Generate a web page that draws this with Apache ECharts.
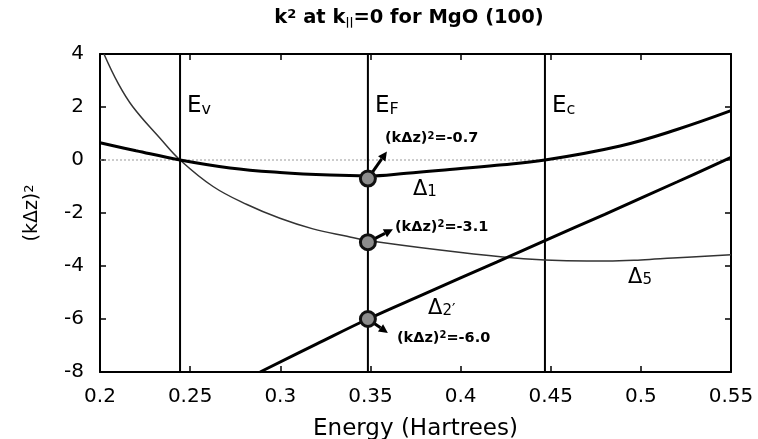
<!DOCTYPE html>
<html>
<head>
<meta charset="utf-8">
<script src="https://cdn.jsdelivr.net/npm/echarts@6/dist/echarts.min.js"></script>
<style>
  html, body { margin: 0; padding: 0; background: #fff; }
  #chart { width: 758px; height: 439px; }
</style>
</head>
<body>
<div id="chart"></div>
<script>
// Energy axis ticks (Hartrees) and (k dz)^2 axis ticks
const xTicks = [0.2, 0.25, 0.3, 0.35, 0.4, 0.45, 0.5, 0.55];
const yTicks = [-8, -6, -4, -2, 0, 2, 4];

// Band edges: valence top, Fermi level, conduction bottom
const edgeSubscripts = ['v', 'F', 'c'];
const edgeEnergies = [0.2444, 0.3486, 0.4468];

// (k dz)^2 versus energy for the three symmetry bands
const delta1 = [
  [0.2, 0.65], [0.22, 0.35], [0.2444, 0], [0.2721, -0.3], [0.2998, -0.47],
  [0.3275, -0.57], [0.3486, -0.6], [0.37, -0.5], [0.394, -0.36], [0.42, -0.2],
  [0.4468, 0], [0.4885, 0.53], [0.52, 1.15], [0.55, 1.86]
];
const delta5 = [
  [0.2022, 4.0], [0.21, 2.9], [0.2183, 2.0], [0.2333, 0.82], [0.2444, 0],
  [0.2627, -1.0], [0.2815, -1.68], [0.2998, -2.2], [0.3181, -2.6], [0.337, -2.88],
  [0.3486, -3.04], [0.3886, -3.4], [0.4235, -3.66], [0.4468, -3.77], [0.47, -3.81],
  [0.4812, -3.81], [0.50, -3.77], [0.5178, -3.7], [0.55, -3.58]
];
const delta2p = [
  [0.2888, -8.0], [0.32, -6.95], [0.3486, -6.0], [0.38, -5.05], [0.42, -3.85],
  [0.4468, -3.04], [0.48, -2.05], [0.52, -0.83], [0.55, 0.1]
];

// Values of (k dz)^2 at the Fermi level for each band
const fermiValues = [-0.7, -3.1, -6.0];
const fermiLabels = ['-0.7', '-3.1', '-6.0'];

// Band names with their label anchors (energy, (k dz)^2)
const bandNames = ['1', '5', '2\u2032'];
const bandLabelAnchors = [[0.3736, -1.1], [0.4929, -4.42], [0.382, -5.6]];

// Pixel offsets of arrow tips and callout text relative to each marker
const calloutLayout = [
  { tip: [19, -27], text: [17, -40] },
  { tip: [25, -13], text: [27, -15] },
  { tip: [20, 14], text: [29, 19] }
];

const FONT = 'DejaVu Sans';
const chart = echarts.init(document.getElementById('chart'));

const frameAxis = {
  axisLine: { show: true, onZero: false, lineStyle: { color: '#000', width: 2 } },
  axisTick: { show: true, inside: true, length: 6, lineStyle: { color: '#000', width: 1.5 } },
  splitLine: { show: false }
};

const curveSeries = (name, data, color, width, z) => ({
  name, type: 'line', data, showSymbol: false, smooth: 0.4,
  lineStyle: { color, width }, z
});

const option = {
  animation: false,
  backgroundColor: '#fff',
  grid: { left: 100, right: 27, top: 54, bottom: 67, containLabel: false, outerBoundsMode: 'none' },
  xAxis: [
    Object.assign({
      type: 'value', min: xTicks[0], max: xTicks[xTicks.length - 1], interval: 0.05,
      axisLabel: {
        fontFamily: FONT, fontSize: 20, color: '#000', margin: 15,
        formatter: v => String(+v.toFixed(2))
      },
      name: 'Energy (Hartrees)', nameLocation: 'middle', nameGap: 46,
      nameTextStyle: { fontFamily: FONT, fontSize: 23, color: '#000' }
    }, frameAxis),
    Object.assign({
      type: 'value', position: 'top', min: xTicks[0], max: xTicks[xTicks.length - 1], interval: 0.05,
      axisLabel: { show: false }
    }, frameAxis)
  ],
  yAxis: [
    Object.assign({
      type: 'value', min: yTicks[0], max: yTicks[yTicks.length - 1], interval: 2,
      axisLabel: { fontFamily: FONT, fontSize: 20, color: '#000', margin: 16 },
      name: '{m|(k\u0394z)}{p|2}', nameLocation: 'middle', nameGap: 58, nameRotate: 90,
      nameTextStyle: {
        rich: {
          m: { fontFamily: FONT, fontSize: 19, color: '#000', lineHeight: 19 },
          p: { fontFamily: FONT, fontSize: 13, color: '#000', lineHeight: 4, verticalAlign: 'top' }
        }
      }
    }, frameAxis),
    Object.assign({
      type: 'value', position: 'right', min: yTicks[0], max: yTicks[yTicks.length - 1], interval: 2,
      axisLabel: { show: false }
    }, frameAxis)
  ],
  graphic: [
    {
      type: 'text', x: 409, y: 18,
      style: {
        text: '{b|k}{p|2}{b| at k}{q|||}{b|=0 for MgO (100)}',
        align: 'center', verticalAlign: 'middle',
        rich: {
          b: { fontFamily: FONT, fontWeight: 'bold', fontSize: 19.5, fill: '#000', lineHeight: 20 },
          p: { fontFamily: FONT, fontWeight: 'bold', fontSize: 13, fill: '#000', lineHeight: 4, verticalAlign: 'top' },
          q: { fontFamily: FONT, fontWeight: 'bold', fontSize: 11, fill: '#000', lineHeight: 4, verticalAlign: 'bottom' }
        }
      }
    }
  ],
  series: [
    // band-edge verticals
    ...edgeEnergies.map(e => ({
      type: 'line', data: [[e, yTicks[0]], [e, yTicks[yTicks.length - 1]]], showSymbol: false, silent: true,
      lineStyle: { color: '#000', width: 2 }, z: 2
    })),
    // zero reference
    {
      type: 'line', data: [[xTicks[0], 0], [xTicks[xTicks.length - 1], 0]], showSymbol: false, silent: true,
      lineStyle: { color: '#999', width: 1, type: [2, 2] }, z: 1
    },
    curveSeries('Delta5', delta5, '#333', 1.5, 3),
    curveSeries('Delta1', delta1, '#000', 3, 4),
    curveSeries('Delta2p', delta2p, '#000', 3, 4),
    {
      // E_v, E_F, E_c labels beside the verticals
      type: 'custom', coordinateSystem: 'cartesian2d', z: 6, silent: true,
      data: edgeEnergies.map(e => [e, 2]),
      renderItem: (params, api) => {
        const p = api.coord([api.value(0), api.value(1)]);
        return {
          type: 'text', x: p[0] + 7, y: p[1] - 1,
          style: {
            text: '{m|E}{s|' + edgeSubscripts[params.dataIndex] + '}',
            verticalAlign: 'middle', align: 'left',
            rich: {
              m: { fontFamily: FONT, fontSize: 23, fill: '#000', lineHeight: 23 },
              s: { fontFamily: FONT, fontSize: 16, fill: '#000', lineHeight: 8, verticalAlign: 'bottom' }
            }
          }
        };
      }
    },
    {
      // band names
      type: 'custom', coordinateSystem: 'cartesian2d', z: 6, silent: true,
      data: bandLabelAnchors,
      renderItem: (params, api) => {
        const p = api.coord([api.value(0), api.value(1)]);
        return {
          type: 'text', x: p[0], y: p[1],
          style: {
            text: '{m|\u0394}{s|' + bandNames[params.dataIndex] + '}',
            verticalAlign: 'middle', align: 'left',
            rich: {
              m: { fontFamily: FONT, fontSize: 21, fill: '#000', lineHeight: 21 },
              s: { fontFamily: FONT, fontSize: 15, fill: '#000', lineHeight: 6, verticalAlign: 'bottom' }
            }
          }
        };
      }
    },
    {
      // Fermi-level markers with callouts
      type: 'custom', coordinateSystem: 'cartesian2d', z: 8, silent: true, clip: false,
      data: fermiValues.map(v => [edgeEnergies[1], v]),
      renderItem: (params, api) => {
        const i = params.dataIndex;
        const p = api.coord([api.value(0), api.value(1)]);
        const lay = calloutLayout[i];
        const tx = p[0] + lay.tip[0], ty = p[1] + lay.tip[1];
        const dx = lay.tip[0], dy = lay.tip[1];
        const len = Math.sqrt(dx * dx + dy * dy);
        const ux = dx / len, uy = dy / len;
        const head = 9, half = 4.5;
        const bx = tx - ux * head, by = ty - uy * head;
        return {
          type: 'group',
          children: [
            {
              type: 'line',
              shape: { x1: p[0], y1: p[1], x2: bx, y2: by },
              style: { stroke: '#000', lineWidth: 3 }
            },
            {
              type: 'polygon',
              shape: { points: [[tx, ty], [bx - uy * half, by + ux * half], [bx + uy * half, by - ux * half]] },
              style: { fill: '#000' }
            },
            {
              type: 'circle',
              shape: { cx: p[0], cy: p[1], r: 7.5 },
              style: { fill: '#8c8c8c', stroke: '#111', lineWidth: 3 }
            },
            {
              type: 'text',
              x: p[0] + lay.text[0], y: p[1] + lay.text[1],
              style: {
                text: '{m|(k\u0394z)}{p|2}{m|=' + fermiLabels[i] + '}',
                align: 'left', verticalAlign: 'middle',
                rich: {
                  m: { fontFamily: FONT, fontWeight: 'bold', fontSize: 14.5, fill: '#000', lineHeight: 15 },
                  p: { fontFamily: FONT, fontWeight: 'bold', fontSize: 10, fill: '#000', lineHeight: 3, verticalAlign: 'top' }
                }
              }
            }
          ]
        };
      }
    }
  ]
};

chart.setOption(option);
</script>
</body>
</html>
